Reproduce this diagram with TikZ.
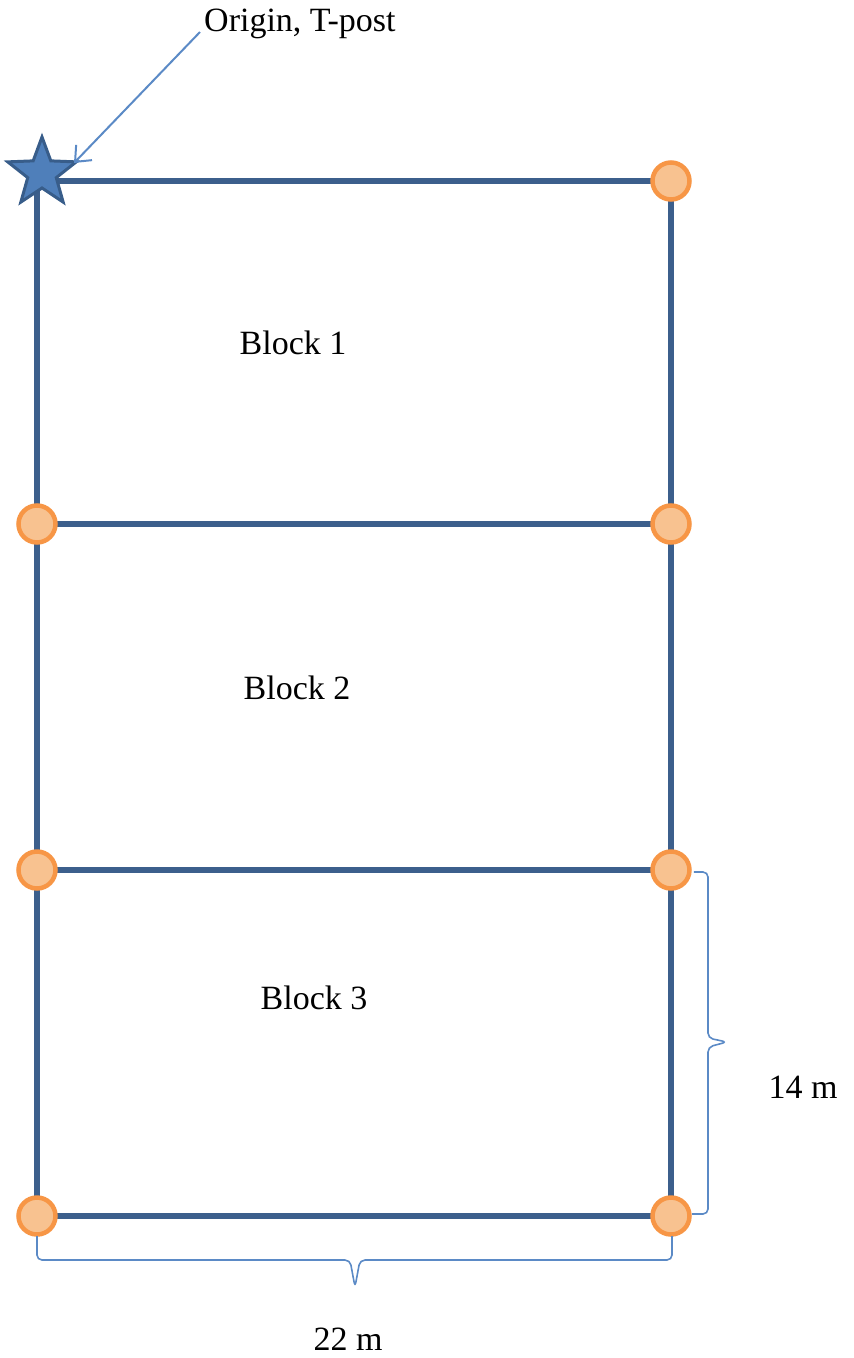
\documentclass[tikz,border=0pt]{standalone}
\usepackage{fontspec}
\setmainfont{Liberation Serif}
\usetikzlibrary{shapes.geometric,arrows.meta,backgrounds}
\definecolor{frame}{HTML}{3C5F8C}
\definecolor{post}{HTML}{F79646}
\definecolor{postfill}{HTML}{F8C290}
\definecolor{starfill}{HTML}{4F7FBA}
\definecolor{stardraw}{HTML}{385D8A}
\definecolor{note}{HTML}{5B8AC6}
\tikzset{
  postnode/.style={circle,draw=post,fill=postfill,line width=4.5pt,minimum size=37pt,inner sep=0pt},
  wire/.style={draw=frame,line width=5.5pt},
  lbl/.style={font=\fontsize{34}{40}\selectfont,inner sep=0pt},
  dimbrace/.style={draw=note,line width=1.6pt,rounded corners=5pt},
}
\begin{document}
\begin{tikzpicture}[x=1pt,y=-1pt]
\useasboundingbox (0,0) rectangle (854,1358);
% posts
\node[star,star points=5,star point ratio=2.4,minimum size=72pt,inner sep=0pt,fill=starfill,draw=stardraw,line width=3pt] (o) at (42,173) {};
\node[postnode] (tr) at (671,181) {};
\node[postnode] (l2) at (37,524) {};
\node[postnode] (r2) at (671,524) {};
\node[postnode] (l3) at (37,870) {};
\node[postnode] (r3) at (671,870) {};
\node[postnode] (l4) at (37,1216) {};
\node[postnode] (r4) at (671,1216) {};
\coordinate (oc) at (37,181);
\begin{scope}[on background layer]
\draw[wire] (oc) -- (tr.center);
\draw[wire] (oc) -- (l4.center);
\draw[wire] (tr.center) -- (r4.center);
\draw[wire] (l2.center) -- (r2.center);
\draw[wire] (l3.center) -- (r3.center);
\draw[wire] (l4.center) -- (r4.center);
\end{scope}
% labels
\node[lbl,anchor=west] (orig) at (204,24) {Origin, T-post};
\node[lbl] (b1) at (293,343) {Block 1};
\node[lbl] (b2) at (297,688) {Block 2};
\node[lbl] (b3) at (314,998) {Block 3};
\node[lbl] (w) at (803,1087) {14 m};
\node[lbl] (h) at (348,1339) {22 m};
% arrow
\coordinate (as) at (200,32);
\coordinate (at) at (74,163);
\draw[note,line width=2pt,-{Straight Barb[length=13pt,width=22pt,line width=2pt]}] (as) -- (at);
% braces
\draw[dimbrace] (r3.east) ++(2,2) -- (708,872) -- (708,1038) -- (727,1042) -- (708,1047) -- (708,1214) -- (692,1214);
\draw[dimbrace] (37,1236) -- (37,1260) -- (350,1260) -- (355,1287) -- (360,1260) -- (672,1260) -- (672,1236);
\end{tikzpicture}
\end{document}
